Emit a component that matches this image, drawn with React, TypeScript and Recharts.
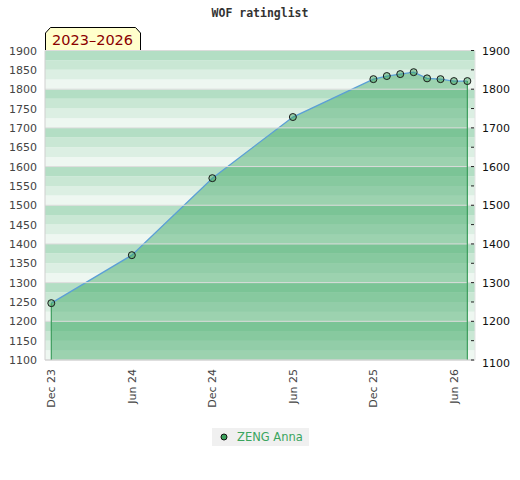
import {
  Area,
  ComposedChart,
  Line,
  ReferenceArea,
  ReferenceLine,
  XAxis,
  YAxis,
} from 'recharts'

// months counted from Dec 2023
const months = [0, 6, 12, 18, 24, 25, 26, 27, 28, 29, 30, 31]
const ratings = [1247, 1371, 1570, 1728, 1826, 1834, 1839, 1844, 1828, 1826, 1821, 1821]

const tickMonths = [0, 6, 12, 18, 24, 30]
const tickLabels = ['Dec 23', 'Jun 24', 'Dec 24', 'Jun 25', 'Dec 25', 'Jun 26']

const leftTicks = [1100, 1150, 1200, 1250, 1300, 1350, 1400, 1450, 1500, 1550, 1600, 1650, 1700, 1750, 1800, 1850, 1900]
const rightTicks = leftTicks

const playerName = 'ZENG Anna'
const periodLabel = '2023–2026'

const Y_MIN = 1100
const Y_MAX = 1900
const BAND_COLORS = ['#eef7f1', '#dcefe3', '#c9e7d4', '#b3dec4'] // bottom -> top inside each 100
const POINT_FILL = '#3da35d'
const LINE_BLUE = '#5b9fd6'
const EDGE_GREEN = '#3c9c5c'

const data = months.map((m, i) => ({ m, rating: ratings[i] }))

const bands: { y1: number; y2: number; fill: string }[] = []
for (let v = Y_MIN; v < Y_MAX; v += 25) {
  bands.push({ y1: v, y2: v + 25, fill: BAND_COLORS[((v - Y_MIN) / 25) % 4] })
}
const gridValues = leftTicks.filter((v) => v % 100 === 0)

function LeftTick({ x, y, payload }: any) {
  return (
    <text x={x - 8} y={y + 4} textAnchor="end" fontSize={11} fill="#444" fontFamily="DejaVu Sans">
      {payload.value}
    </text>
  )
}

function RightTick({ x, y, payload }: any) {
  const v = payload.value
  return (
    <g>
      <line x1={x - 4} x2={x - 1} y1={y} y2={y} stroke="#222" strokeWidth={1} />
      {v % 100 === 0 && (
        <text x={x + 7} y={y + 4 + (v === Y_MIN ? 3 : 0)} textAnchor="start" fontSize={11} fill="#111" fontFamily="DejaVu Sans">
          {v}
        </text>
      )}
    </g>
  )
}

function BottomTick({ x, y, payload }: any) {
  const label = tickLabels[tickMonths.indexOf(payload.value)]
  return (
    <text
      x={x + 4}
      y={y + 9}
      transform={`rotate(-90 ${x + 4} ${y + 9})`}
      textAnchor="end"
      fontSize={11}
      fill="#444"
      fontFamily="DejaVu Sans"
    >
      {label}
    </text>
  )
}

export default function App() {
  const first = data[0]
  const last = data[data.length - 1]
  return (
    <div style={{ position: 'absolute', left: 0, top: 0, width: 520, height: 480, background: '#fff' }}>
      <div
        style={{
          position: 'absolute',
          top: 6,
          width: 520,
          textAlign: 'center',
          fontFamily: 'DejaVu Sans Mono',
          fontWeight: 'bold',
          fontSize: 11.5,
          color: '#333',
        }}
      >
        WOF ratinglist
      </div>
      <svg style={{ position: 'absolute', left: 0, top: 0 }} width={160} height={52}>
        <polygon
          points="45.5,50.5 45.5,33 50.5,27.5 135.5,27.5 140.5,33 140.5,50.5"
          fill="#ffffcc"
          stroke="#000"
          strokeWidth={1}
        />
        <text x={52} y={45} fontSize={14.5} fill="#8b0000" fontFamily="DejaVu Sans">
          {periodLabel}
        </text>
      </svg>
      <ComposedChart width={520} height={480} data={data} margin={{ top: 50.5, right: 0, bottom: 60, left: 0 }}>
        <XAxis
          dataKey="m"
          type="number"
          domain={[-0.47, 31.57]}
          ticks={tickMonths}
          tick={<BottomTick />}
          tickSize={0}
          tickMargin={0}
          height={60}
          axisLine={{ stroke: '#cfcfcf' }}
          tickLine={false}
          xAxisId="x"
        />
        <YAxis
          yAxisId="l"
          orientation="left"
          width={45}
          domain={[Y_MIN, Y_MAX]}
          ticks={leftTicks}
          tick={<LeftTick />}
          tickSize={0}
          tickMargin={0}
          tickLine={false}
          axisLine={{ stroke: '#cfcfcf' }}
          interval={0}
        />
        <YAxis
          yAxisId="r"
          orientation="right"
          width={45}
          domain={[Y_MIN, Y_MAX]}
          ticks={rightTicks}
          tick={<RightTick />}
          tickSize={0}
          tickMargin={0}
          tickLine={false}
          axisLine={{ stroke: '#e2e2e2' }}
          interval={0}
        />
        {bands.map((b) => (
          <ReferenceArea
            key={b.y1}
            xAxisId="x"
            yAxisId="l"
            y1={b.y1}
            y2={b.y2}
            fill={b.fill}
            fillOpacity={1}
            stroke="none"
            ifOverflow="hidden"
          />
        ))}
        {gridValues.map((v) => (
          <ReferenceLine key={v} xAxisId="x" yAxisId="l" y={v} stroke="#dcdcdc" strokeWidth={1} />
        ))}
        <Area
          xAxisId="x"
          yAxisId="l"
          type="linear"
          dataKey="rating"
          stroke={LINE_BLUE}
          strokeWidth={1.3}
          fill="#38a360"
          fillOpacity={0.45}
          baseValue={Y_MIN}
          dot={{ r: 3.5, fill: POINT_FILL, stroke: '#1a1a1a', strokeWidth: 1 }}
          activeDot={false}
          isAnimationActive={false}
        />
        {/* invisible series so the right axis has something bound to it */}
        <Line
          xAxisId="x"
          yAxisId="r"
          dataKey="rating"
          stroke="none"
          dot={false}
          activeDot={false}
          isAnimationActive={false}
        />
        <ReferenceLine
          xAxisId="x"
          yAxisId="l"
          segment={[{ x: first.m, y: Y_MIN }, { x: first.m, y: first.rating }]}
          stroke={EDGE_GREEN}
          strokeWidth={1.2}
        />
        <ReferenceLine
          xAxisId="x"
          yAxisId="l"
          segment={[{ x: last.m, y: Y_MIN }, { x: last.m, y: last.rating }]}
          stroke={EDGE_GREEN}
          strokeWidth={1.2}
        />
      </ComposedChart>
      <div
        style={{
          position: 'absolute',
          left: 212,
          top: 428,
          width: 97,
          height: 18,
          background: '#f0f0f0',
          display: 'flex',
          alignItems: 'center',
          fontFamily: 'DejaVu Sans',
          fontSize: 11.5,
          color: '#3aa55e',
        }}
      >
        <svg width={24} height={18}>
          <circle cx={12} cy={9} r={3} fill={POINT_FILL} stroke="#111" strokeWidth={1} />
        </svg>
        <span style={{ marginLeft: 1 }}>{playerName}</span>
      </div>
    </div>
  )
}
